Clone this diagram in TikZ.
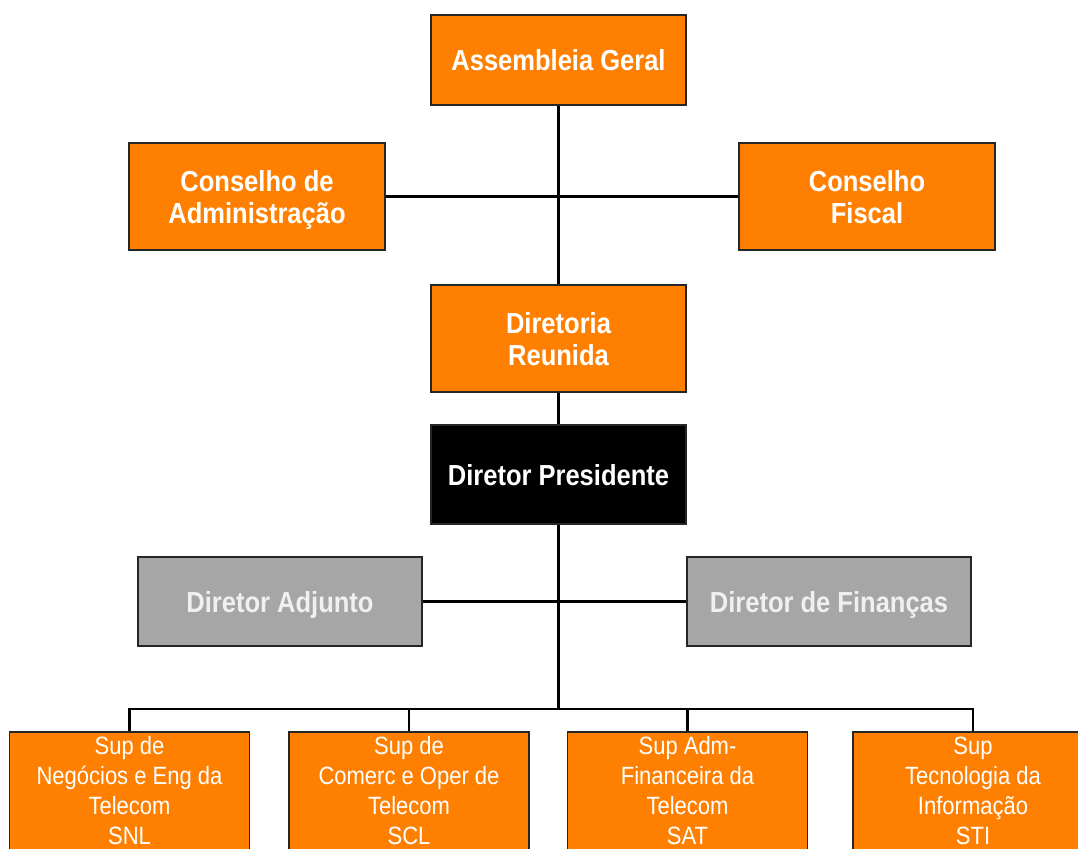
\documentclass[tikz,border=0pt]{standalone}
\usepackage{fontspec}
\setmainfont{Liberation Sans}
\newfontfamily\boxfont[FakeStretch=0.88]{Liberation Sans}
\usepackage{tikz}
\usetikzlibrary{positioning}
\definecolor{orgorange}{RGB}{255,128,0}
\definecolor{orggray}{RGB}{165,166,165}
\definecolor{graytext}{RGB}{240,240,240}
\tikzset{
  orgbox/.style={draw=black!85,line width=1.8pt,fill=orgorange,text=white,align=center,inner sep=0pt,
    font=\boxfont\bfseries\fontsize{29}{32}\selectfont,minimum width=255pt,text depth=0pt},
  presbox/.style={orgbox,fill=black},
  graybox/.style={orgbox,fill=orggray,text=graytext,minimum width=284pt,minimum height=89pt},
  supbox/.style={draw=black!85,line width=1.8pt,fill=orgorange,text=white,align=center,anchor=north,
    font=\boxfont\fontsize{25}{30}\selectfont,minimum width=240pt,minimum height=118pt,
    inner ysep=1pt},
  link/.style={line width=2.2pt,black}
}

\begin{document}
\begin{tikzpicture}[x=1pt,y=-1pt]
  \useasboundingbox (0,0) rectangle (1078,848);
  \clip (0,0) rectangle (1078,848);
  \fill[white] (0,0) rectangle (1078,848);

  % top levels
  \node[orgbox,minimum height=90pt] (ag) at (558.5,60) {Assembleia Geral};
  \node[orgbox,minimum height=107pt,minimum width=256pt] (ca) at (257,196.5) {Conselho de\\Administração};
  \node[orgbox,minimum height=107pt,minimum width=256pt] (cf) at (867,196.5) {Conselho\\Fiscal};
  \node[orgbox,minimum height=107pt] (dr) at (558.5,338.5) {Diretoria\\Reunida};
  \node[presbox,minimum height=99pt] (dp) at (558.5,474.5) {Diretor Presidente};
  \node[graybox] (da) at (280,601.5) {Diretor Adjunto};
  \node[graybox] (df) at (829,601.5) {Diretor de Finanças};

  % superintendencias
  \coordinate (bus) at (558.5,709);
  \node[supbox] (snl) at (129.5,731) {Sup de\\Negócios e Eng da\\Telecom\\SNL};
  \node[supbox] (scl) at (409,731) {Sup de\\Comerc e Oper de\\Telecom\\SCL};
  \node[supbox] (sat) at (687.5,731) {Sup Adm-\\Financeira da\\Telecom\\SAT};
  \node[supbox] (sti) at (973,731) {Sup\\Tecnologia da\\Informação\\STI};

  % connectors
  \draw[link] (ag.south) -- (dr.north);
  \draw[link] (ca.east) -- (cf.west);
  \draw[link] (dr.south) -- (dp.north);
  \draw[link] (dp.south) -- (bus);
  \draw[link] (da.east) -- (df.west);
  \draw[link] (snl.north) |- (bus) -| (sti.north);
  \foreach \s in {scl,sat}
    \draw[link] (\s.north) -- (\s.north |- bus);
\end{tikzpicture}
\end{document}
